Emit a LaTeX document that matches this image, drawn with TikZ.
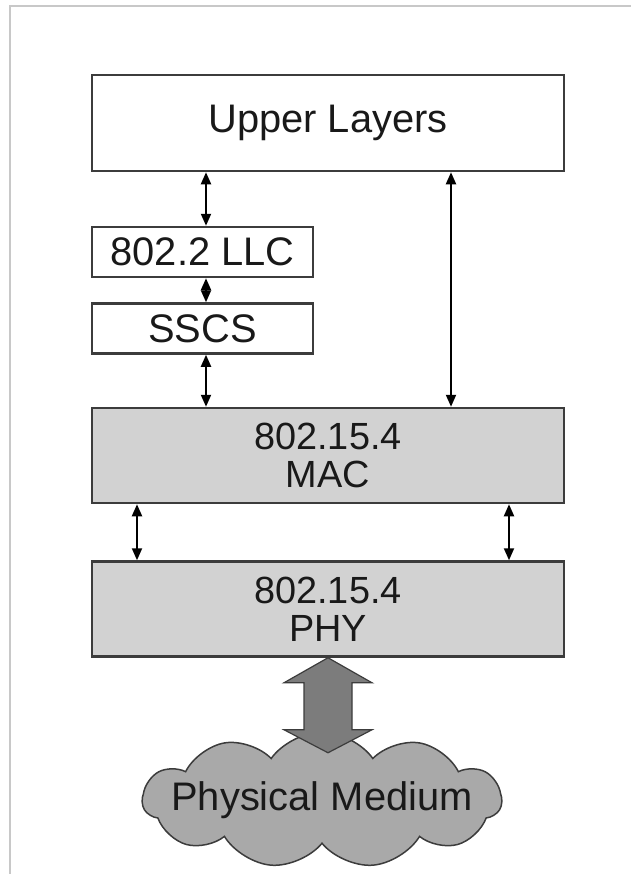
\documentclass[tikz,border=0pt]{standalone}
\usepackage{fontspec}
\setmainfont{Liberation Sans}
\usepackage{tikz}
\usetikzlibrary{shapes.symbols, arrows.meta, positioning, calc}
\definecolor{edge}{HTML}{3C3C3C}
\definecolor{layergray}{HTML}{D2D2D2}
\definecolor{arrowgray}{HTML}{7C7C7C}
\definecolor{cloudgray}{HTML}{A9A9A9}
\definecolor{framegray}{HTML}{C8C8C8}

\begin{document}
\begin{tikzpicture}[x=1bp, y=-1bp, >={Triangle[width=10bp,length=12bp]}, line width=2bp,
  layer/.style={draw=edge, line width=2.5bp, inner sep=0pt, align=center, text=black!90,
    font=\fontsize{40}{36}\selectfont},
  wide/.style={layer, minimum width=472bp, minimum height=95bp, font=\fontsize{38}{38}\selectfont},
  small/.style={layer, minimum width=221bp, minimum height=50bp}]

\useasboundingbox (0,0) rectangle (631,874);
% page frame
\draw[framegray, line width=1.5bp] (10,874) -- (10,6) -- (631,6);

% Layer blocks
\node (upper) [wide, minimum height=96bp, font=\fontsize{40}{36}\selectfont] at (328,123) {Upper Layers};
\node (llc) [small] at (202.5,252) {802.2 LLC};
\node (sscs) [small, below=24bp of llc] {SSCS};
\node (mac) [wide, fill=layergray] at (328,455.5) {802.15.4\\MAC};
\node (phy) [wide, fill=layergray, below=56bp of mac] {802.15.4\\PHY};

% Physical medium cloud
\node (medium) [cloud, cloud puffs=11, cloud puff arc=110, cloud ignores aspect, draw=edge,
  line width=1.5bp, fill=cloudgray, inner xsep=-23bp, inner ysep=12bp,
  text=black!90, font=\fontsize{40}{36}\selectfont] at (322,800) {Physical Medium};

% Big double arrow between PHY and medium
\draw[edge, line width=1.2bp, fill=arrowgray] (phy.south) -- ++(-44,25) -- ++(20,0) -- ++(0,47) -- ++(-20,0)
  -- ++(44,23) -- ++(44,-23) -- ++(-20,0) -- ++(0,-47) -- ++(20,0) -- cycle;

% Service access arrows
\coordinate (stack) at (206,0);
\coordinate (side) at (451,0);
\draw[<->] (upper.south -| stack) -- (llc.north -| stack);
\draw[<->] (llc.south -| stack) -- (sscs.north -| stack);
\draw[<->] (sscs.south -| stack) -- (mac.north -| stack);
\draw[<->] (upper.south -| side) -- (mac.north -| side);
\draw[<->] ([xshift=-191bp]mac.south) -- ([xshift=-191bp]phy.north);
\draw[<->] ([xshift=181bp]mac.south) -- ([xshift=181bp]phy.north);
\end{tikzpicture}
\end{document}
